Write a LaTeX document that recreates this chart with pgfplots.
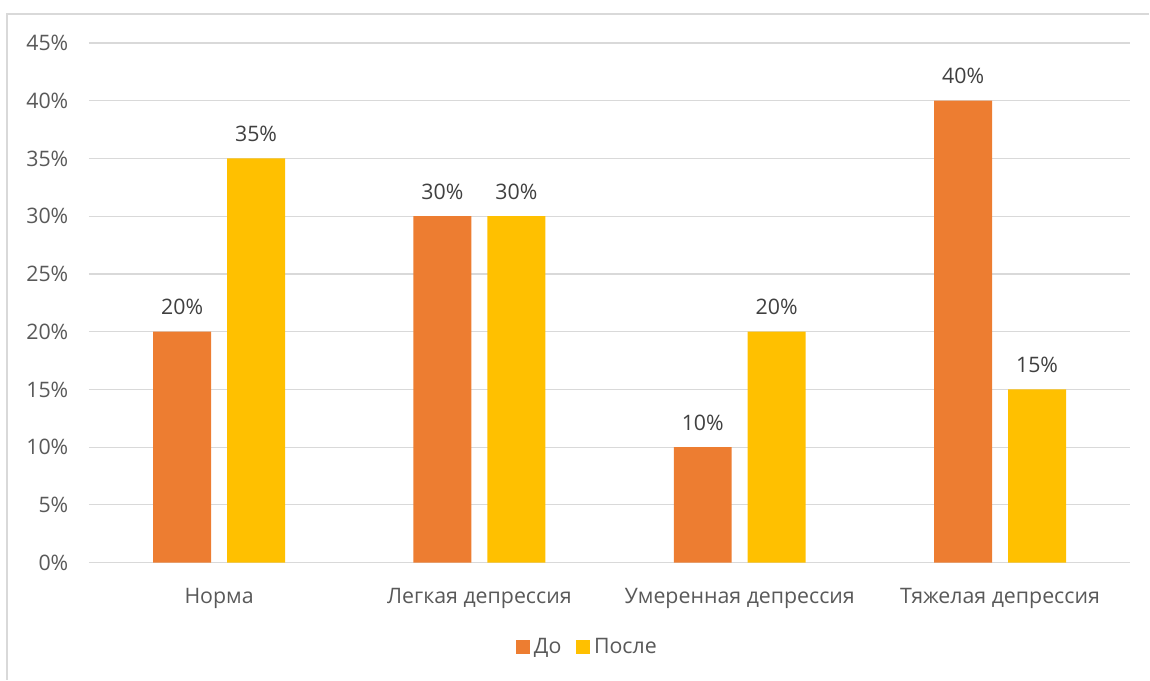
\documentclass[border=0pt]{standalone}
\usepackage{pgfplots}
\pgfplotsset{compat=1.18}
\usepackage{fontspec}
\setmainfont{Open Sans}
\definecolor{cOrange}{HTML}{ED7D31}
\definecolor{cYellow}{HTML}{FFC000}
\definecolor{cGrid}{HTML}{D9D9D9}
\definecolor{cTick}{HTML}{595959}
\definecolor{cLabel}{HTML}{404040}
\begin{document}
\begin{tikzpicture}
\begin{axis}[
  name=ax, at={(0,0)}, anchor=south west,
  scale only axis, width=781.5pt, height=390pt,
  ybar=12pt, bar width=43.5pt,
  xmin=-0.5, xmax=3.5, ymin=0, ymax=45,
  xtick=data,
  xticklabels={Норма, Легкая депрессия, Умеренная депрессия, Тяжелая депрессия},
  ytick={0,5,...,45},
  yticklabel={\pgfmathprintnumber{\tick}\%},
  /pgf/number format/assume math mode=true,
  ymajorgrids, grid style={cGrid, line width=0.9pt},
  axis line style={draw=none},
  major tick length=0pt,
  tick label style={font=\fontsize{16}{19}\selectfont, text=cTick},
  yticklabel style={xshift=-12pt},
  xticklabel style={yshift=-16pt},
  nodes near coords={\pgfmathprintnumber{\pgfplotspointmeta}\%},
  nodes near coords style={font=\fontsize{16}{19}\selectfont, text=cLabel, anchor=south, yshift=9pt},
  legend style={at={(0.479,-0.1615)}, anchor=center, draw=none, legend columns=2,
    font=\fontsize{16}{19}\selectfont, text=cTick,
    /tikz/every odd column/.append style={column sep=1pt},
    /tikz/every even column/.append style={column sep=9pt}},
  legend image code/.code={\fill[#1,draw=none] (0pt,-5.25pt) rectangle (10.5pt,5.25pt);},
]
\addplot[fill=cOrange, draw=none] coordinates {(0,20) (1,30) (2,10) (3,40)};
\addplot[fill=cYellow, draw=none] coordinates {(0,35) (1,30) (2,20) (3,15)};
\legend{До, После}
\end{axis}
\draw[cGrid, line width=1.2pt] (-61.5pt,-87.75pt) -- (-61.5pt,411.75pt) -- (795.75pt,411.75pt);
\path[use as bounding box] (-66.75pt,-87.75pt) rectangle (795.75pt,422.25pt);
\end{tikzpicture}
\end{document}
